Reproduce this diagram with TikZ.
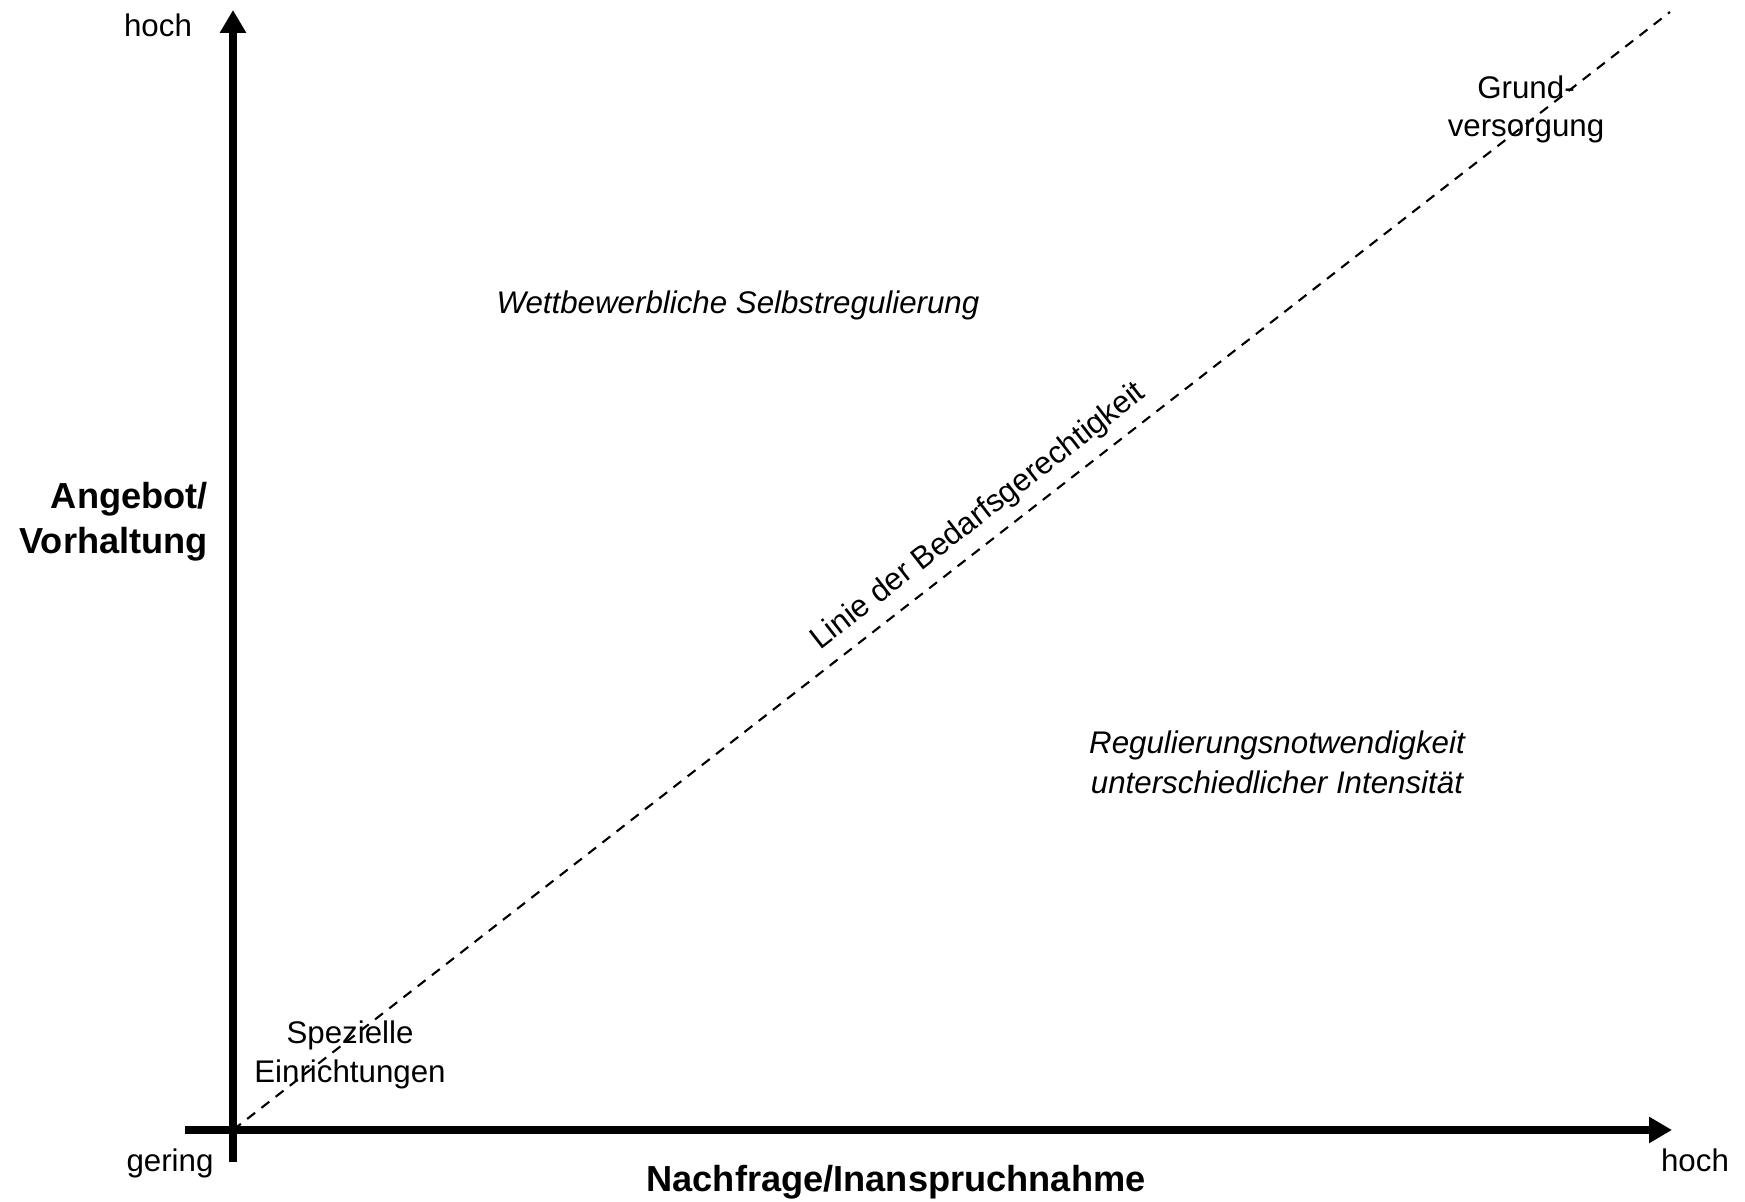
\documentclass[tikz,border=0pt]{standalone}
\usepackage{fontspec}
\setmainfont{Liberation Sans}
\usetikzlibrary{arrows.meta,positioning}

\tikzset{
  axis/.style={line width=2.3pt,-{Triangle[length=0.23cm,width=0.25cm]}},
  bedarf/.style={line width=0.6pt,dash pattern=on 0.1cm off 0.08cm},
  txt/.style={inner sep=1pt,align=center,font=\fontsize{8.9}{10.9}\selectfont},
  bold/.style={inner sep=1pt,font=\fontsize{10.3}{12.8}\selectfont\bfseries},
  area/.style={inner sep=1pt,align=center,font=\fontsize{8.9}{11.4}\selectfont\itshape}
}

\begin{document}
\begin{tikzpicture}
\useasboundingbox (0,0) rectangle (17.45,12.02);

\coordinate (O) at (2.33,0.72);
\coordinate (ybot) at (2.33,0.40);
\coordinate (ytop) at (2.33,11.92);
\coordinate (xleft) at (1.85,0.72);
\coordinate (xright) at (16.72,0.72);
\coordinate (lend) at (16.70,11.90);

\draw[axis] (ybot)--(ytop);
\draw[axis] (xleft)--(xright);
\draw[bedarf] (O)--(lend)
  node[pos=0.53,sloped,above=2pt,txt] (linie){Linie der Bedarfsgerechtigkeit};

\node[txt] (hochy) at (1.58,11.77){hoch};
\node[txt] (gering) at (1.70,0.39){gering};
\node[txt] (hochx) at (16.95,0.42){hoch};
\node[bold,align=right,anchor=east] (angebot) at (2.12,6.80){Angebot/\\Vorhaltung};
\node[bold,align=center] (nachfrage) at (8.96,0.20){Nachfrage/Inanspruchnahme};

\node[txt] (grund) at (15.26,10.925){Grund-\\versorgung};
\node[txt] (spezial) at (3.50,1.47){Spezielle\\Einrichtungen};

\node[area] (wettbewerb) at (7.38,8.97){Wettbewerbliche Selbstregulierung};
\node[area] (regulierung) at (12.77,4.40){Regulierungsnotwendigkeit\\unterschiedlicher Intensität};
\end{tikzpicture}
\end{document}
